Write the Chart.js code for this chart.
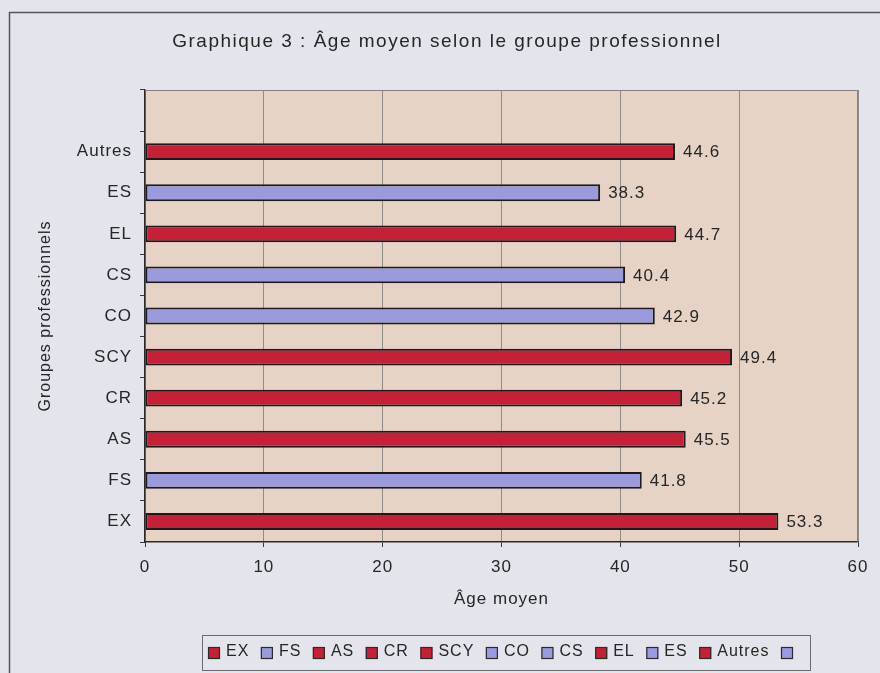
<!DOCTYPE html>
<html><head><meta charset="utf-8">
<script src="https://cdn.jsdelivr.net/npm/chart.js@4.4.1/dist/chart.umd.min.js"></script>
<style>html,body{margin:0;padding:0;background:#e4e5ec}canvas{display:block}</style>
</head><body>
<canvas id="c" width="880" height="673" style="width:880px;height:673px"></canvas>
<script>
// ---- data ----
const categories = ['EX','FS','AS','CR','SCY','CO','CS','EL','ES','Autres',''];
const ages = [53.3,41.8,45.5,45.2,49.4,42.9,40.4,44.7,38.3,44.6,null];
const groupKinds = ['r','b','r','r','r','b','b','r','b','r','b'];
const legendLabels = ['EX','FS','AS','CR','SCY','CO','CS','EL','ES','Autres',''];
const xMin = 0, xMax = 60, xStep = 10;
const titleText = 'Graphique 3 : Âge moyen selon le groupe professionnel';
const xTitle = 'Âge moyen';
const yTitle = 'Groupes professionnels';

// ---- style ----
const RED = '#c61f38', BLUE = '#9a9add';
const colorOf = k => k === 'r' ? RED : BLUE;
const FONT = '"Liberation Sans", Arial, sans-serif';
const LS = '1px';
const TXT = '#262626';

Chart.defaults.font.family = FONT;
Chart.defaults.color = TXT;

const deco = {
  id: 'deco',
  beforeLayout(chart) { chart.ctx.letterSpacing = LS; },
  beforeDraw(chart) {
    const ctx = chart.ctx;
    ctx.letterSpacing = LS;
    ctx.save();
    ctx.fillStyle = '#e4e5ec';
    ctx.fillRect(0, 0, chart.width, chart.height);
    ctx.strokeStyle = '#55565c';
    ctx.lineWidth = 1.5;
    ctx.strokeRect(9.5, 12.5, 920, 720);
    const a = chart.chartArea;
    ctx.fillStyle = '#e6d3c6';
    ctx.fillRect(a.left, a.top, a.right - a.left, a.bottom - a.top);
    ctx.restore();
  },
  afterDatasetsDraw(chart) {
    const ctx = chart.ctx;
    const meta = chart.getDatasetMeta(0);
    ctx.save();
    ctx.font = '17px ' + FONT;
    ctx.fillStyle = TXT;
    ctx.textAlign = 'left';
    ctx.textBaseline = 'middle';
    meta.data.forEach((el, i) => {
      const v = ages[i];
      if (v == null) return;
      ctx.fillText(v.toFixed(1), el.x + 8, el.y + 1);
    });
    ctx.restore();
  },
  afterDraw(chart) {
    const ctx = chart.ctx;
    const a = chart.chartArea;
    ctx.save();
    // plot top/right border
    ctx.strokeStyle = '#8a7c86';
    ctx.lineWidth = 1;
    ctx.beginPath();
    ctx.moveTo(a.left, a.top + 0.5); ctx.lineTo(a.right - 0.5, a.top + 0.5); ctx.lineTo(a.right - 0.5, a.bottom);
    ctx.stroke();
    // title
    ctx.letterSpacing = '1.5px';
    ctx.font = '19px ' + FONT;
    ctx.fillStyle = TXT;
    ctx.textAlign = 'center';
    ctx.textBaseline = 'alphabetic';
    ctx.fillText(titleText, 447, 47);
    ctx.letterSpacing = LS;
    // legend
    ctx.font = '16px ' + FONT;
    const box = 12, gapT = 6;
    const widths = legendLabels.map(t => box + (t ? gapT + ctx.measureText(t).width : 0));
    const total = widths.reduce((s, w) => s + w, 0);
    const x0 = 208, x1 = 793;
    const gap = (x1 - x0 - total) / (legendLabels.length - 1);
    let x = x0;
    const yc = 653;
    ctx.textAlign = 'left';
    ctx.textBaseline = 'middle';
    legendLabels.forEach((t, i) => {
      ctx.fillStyle = colorOf(groupKinds[i]);
      ctx.fillRect(x, yc - box / 2, box, box);
      ctx.strokeStyle = '#2a2a2a';
      ctx.lineWidth = 1.2;
      ctx.strokeRect(x + 0.5, yc - box / 2 + 0.5, box - 1, box - 1);
      if (t) {
        ctx.fillStyle = TXT;
        ctx.fillText(t, x + box + gapT, yc - 1);
      }
      x += widths[i] + gap;
    });
    ctx.strokeStyle = '#6a6a70';
    ctx.lineWidth = 1;
    ctx.strokeRect(202.5, 635.5, 608, 35);
    ctx.restore();
  }
};

new Chart(document.getElementById('c'), {
  type: 'bar',
  data: {
    labels: categories,
    datasets: [{
      data: ages,
      backgroundColor: groupKinds.map(colorOf),
      borderColor: '#1e1a1c',
      borderWidth: 2,
      borderSkipped: false,
      barPercentage: 0.41,
      categoryPercentage: 1
    }]
  },
  options: {
    indexAxis: 'y',
    responsive: false,
    animation: false,
    devicePixelRatio: 1,
    layout: { padding: { left: 0, right: 22, top: 90, bottom: 53 } },
    plugins: { legend: { display: false }, tooltip: { enabled: false }, title: { display: false } },
    scales: {
      x: {
        min: xMin, max: xMax,
        ticks: { stepSize: xStep, font: { size: 17 }, color: TXT, padding: 10 },
        grid: { color: '#8f8d86', lineWidth: 1, tickLength: 5, tickColor: '#3a3a3a' },
        border: { color: '#2a2a2a', width: 1.5 },
        title: { display: true, text: xTitle, font: { size: 17 }, color: TXT, padding: { top: 6, bottom: 10 } },
        afterFit(s) { s.height = 78; }
      },
      y: {
        reverse: true,
        ticks: { font: { size: 17 }, color: TXT, padding: 8 },
        grid: { drawOnChartArea: false, tickLength: 5, color: '#3a3a3a', offset: true },
        border: { color: '#2a2a2a', width: 1.5 },
        title: { display: true, text: yTitle, font: { size: 16 }, color: TXT, padding: { top: 36, bottom: 0 } },
        afterFit(s) { s.width = 145; }
      }
    }
  },
  plugins: [deco]
});
</script>
</body></html>
